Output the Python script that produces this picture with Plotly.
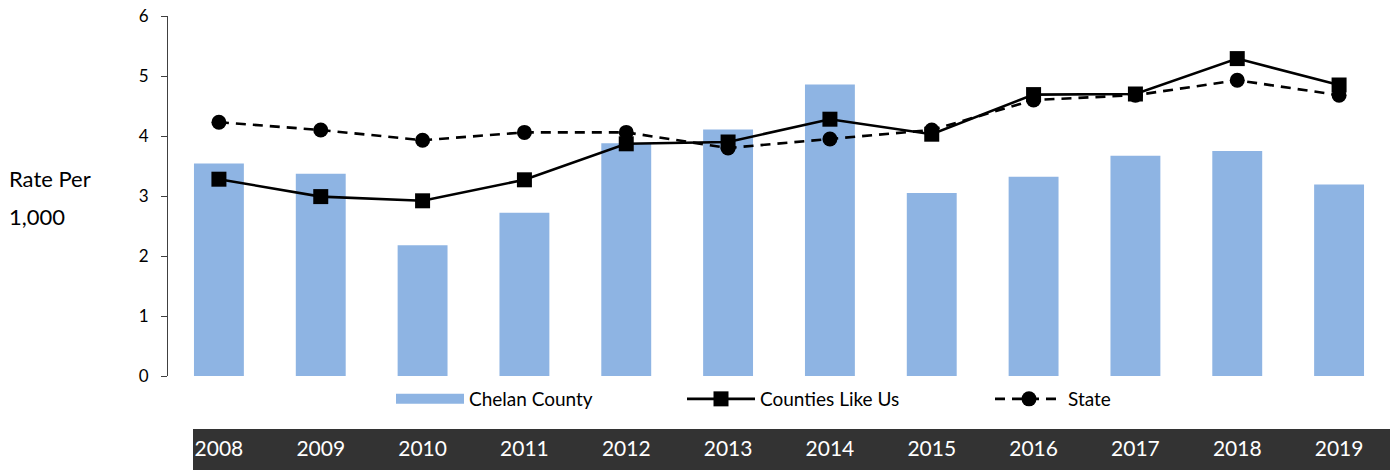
import plotly.graph_objects as go

years = ["2008", "2009", "2010", "2011", "2012", "2013", "2014", "2015", "2016", "2017", "2018", "2019"]
chelan = [3.54, 3.37, 2.18, 2.72, 3.88, 4.11, 4.86, 3.05, 3.32, 3.67, 3.75, 3.19]
counties_like_us = [3.28, 2.99, 2.92, 3.27, 3.87, 3.90, 4.28, 4.03, 4.69, 4.70, 5.29, 4.85]
state = [4.23, 4.10, 3.93, 4.06, 4.06, 3.80, 3.95, 4.10, 4.60, 4.68, 4.93, 4.68]
y_ticks = [0, 1, 2, 3, 4, 5, 6]

FONT = "Lato"
BLUE = "#8EB4E3"
L, R, T, B = 168, 6, 16, 94
PW = 1396 - L - R
PH = 470 - T - B


def px(xp):
    return (xp - L) / PW


def py(yp):
    return (470 - B - yp) / PH


fig = go.Figure()
fig.add_trace(go.Bar(x=years, y=chelan, marker=dict(color=BLUE, line=dict(width=0)),
                     name="Chelan County", showlegend=False))
# legend swatch for the bars (wide rectangle as in the original)
fig.add_trace(go.Scatter(x=[years[0]], y=[None], mode="lines", name="Chelan County",
                         line=dict(color=BLUE, width=12), legend="legend", hoverinfo="skip"))
fig.add_trace(go.Scatter(x=years, y=counties_like_us, mode="lines+markers", name="Counties Like Us",
                         line=dict(color="black", width=2.6),
                         marker=dict(symbol="square", size=15, color="black"), legend="legend2"))
fig.add_trace(go.Scatter(x=years, y=state, mode="lines+markers", name="State",
                         line=dict(color="black", width=2.6, dash="10px,7px"),
                         marker=dict(symbol="circle", size=15, color="black"), legend="legend3"))

leg_common = dict(orientation="h", xanchor="left", yanchor="middle", itemwidth=68,
                  font=dict(family=FONT, size=19, color="black"), bgcolor="rgba(0,0,0,0)",
                  borderwidth=0)
y_leg = py(399)
fig.update_layout(
    legend=dict(x=px(391), y=y_leg, **leg_common),
    legend2=dict(x=px(682), y=y_leg, **leg_common),
    legend3=dict(x=px(990), y=y_leg, **leg_common),
)

fig.add_shape(type="rect", xref="paper", yref="paper", x0=px(193), x1=1.0,
              y0=py(475), y1=py(429), fillcolor="#333333", line=dict(width=0), layer="below")

fig.add_annotation(text="Rate Per", xref="paper", yref="paper", x=px(7), y=py(179),
                   xanchor="left", yanchor="middle", showarrow=False,
                   font=dict(family=FONT, size=22, color="black"))
fig.add_annotation(text="1,000", xref="paper", yref="paper", x=px(7), y=py(216),
                   xanchor="left", yanchor="middle", showarrow=False,
                   font=dict(family=FONT, size=22, color="black"))

fig.update_layout(
    width=1396, height=470,
    margin=dict(l=L, r=R, t=T, b=B, autoexpand=False),
    plot_bgcolor="white", paper_bgcolor="white",
    bargap=0.51,
    font=dict(family=FONT, color="black"),
    xaxis=dict(type="category", categoryarray=years, range=[-0.5, len(years) - 0.5],
               showline=False, showgrid=False, ticks="",
               tickfont=dict(family=FONT, size=21, color="white"), ticklabelstandoff=58),
    yaxis=dict(range=[0, 6], tickvals=y_ticks, showgrid=False, zeroline=False,
               showline=True, linecolor="#404040", linewidth=1, ticks="outside", ticklen=6,
               tickcolor="#404040", tickfont=dict(family=FONT, size=17, color="black"),
               ticklabelstandoff=9),
)

fig.write_html("out.html", config={"displayModeBar": False},
               post_script="document.body.style.margin='0';document.body.style.overflow='hidden';")
